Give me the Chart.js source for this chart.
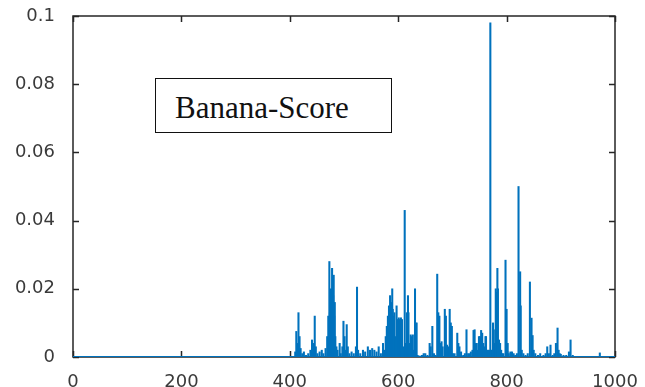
<!DOCTYPE html>
<html>
<head>
<meta charset="utf-8">
<script src="https://cdn.jsdelivr.net/npm/chart.js@4.4.1/dist/chart.umd.min.js"></script>
<style>
  body { margin: 0; background: #fff; }
  #wrap { position: relative; width: 645px; height: 387px; }
  #label {
    position: absolute; left: 155px; top: 78px; width: 237px; height: 55px;
    box-sizing: border-box; border: 1.5px solid #111; background: #fff;
    font-family: "Liberation Serif", serif; font-size: 31px; line-height: 58px;
    padding-left: 19px; color: #111;
  }
</style>
</head>
<body>
<div id="wrap">
  <canvas id="chart" width="645" height="387"></canvas>
  <div id="label">Banana-Score</div>
</div>
<script>
// spikes (index, score)
const spikeX = [410, 412, 414, 416, 418, 420, 423, 426, 430, 434, 438, 441, 443, 446, 448, 451, 455, 459, 462, 466,
  469, 471, 473, 474, 475, 476, 477, 478, 479, 480, 481, 482, 483, 484, 486, 488, 492, 494, 497, 499,
  501, 503, 505, 507, 510, 514, 518, 522, 524, 526, 530, 535, 539, 544, 548, 552, 556, 560, 564, 568,
  572, 575, 577, 579, 581, 583, 585, 587, 589, 590, 591, 593, 595, 597, 599, 601, 603, 605, 607, 609,
  612, 614, 616, 618, 619, 621, 623, 625, 627, 629, 631, 632, 634, 636, 640, 644, 647, 650, 654, 658,
  660, 663, 666, 669, 672, 674, 676, 678, 680, 682, 686, 688, 690, 692, 695, 697, 699, 701, 704, 709,
  711, 713, 716, 720, 723, 726, 729, 732, 734, 737, 739, 741, 743, 745, 747, 749, 751, 753, 755, 757,
  759, 761, 762, 764, 766, 768, 770, 772, 774, 775, 777, 779, 780, 782, 783, 784, 786, 788, 790, 792,
  794, 798, 800, 802, 804, 807, 810, 813, 816, 819, 822, 825, 826, 828, 831, 835, 839, 843, 846, 848,
  850, 853, 858, 862, 868, 872, 875, 878, 881, 885, 888, 891, 894, 896, 898, 900, 905, 910, 915, 918,
  922, 972];
const spikeY = [0.0015, 0.0075, 0.004, 0.013, 0.006, 0.0025, 0.001, 0.0015, 0.0005, 0.001, 0.002, 0.005, 0.004, 0.012, 0.003, 0.001, 0.0015, 0.002, 0.001, 0.0025,
  0.006, 0.012, 0.028, 0.013, 0.017, 0.02, 0.014, 0.026, 0.01, 0.018, 0.024, 0.012, 0.016, 0.006, 0.003, 0.002, 0.004, 0.001, 0.003, 0.0105,
  0.006, 0.002, 0.0095, 0.003, 0.001, 0.0015, 0.001, 0.003, 0.0205, 0.002, 0.001, 0.002, 0.0015, 0.003, 0.002, 0.0025, 0.002, 0.0015, 0.003, 0.001,
  0.004, 0.002, 0.006, 0.009, 0.012, 0.015, 0.018, 0.016, 0.02, 0.014, 0.012, 0.013, 0.006, 0.015, 0.011, 0.0115, 0.011, 0.0115, 0.011, 0.003,
  0.043, 0.004, 0.013, 0.018, 0.013, 0.004, 0.0065, 0.006, 0.0065, 0.002, 0.02, 0.01, 0.01, 0.0005, 0.0003, 0.0005, 0.001, 0.001, 0.0005, 0.004,
  0.003, 0.009, 0.001, 0.0005, 0.0243, 0.013, 0.012, 0.004, 0.0045, 0.003, 0.014, 0.012, 0.0035, 0.003, 0.014, 0.01, 0.009, 0.001, 0.001, 0.007,
  0.004, 0.003, 0.0015, 0.0005, 0.001, 0.008, 0.001, 0.001, 0.0015, 0.002, 0.0078, 0.008, 0.004, 0.004, 0.002, 0.006, 0.006, 0.0078, 0.007, 0.004,
  0.003, 0.006, 0.006, 0.002, 0.002, 0.002, 0.098, 0.002, 0.002, 0.01, 0.004, 0.008, 0.02, 0.019, 0.026, 0.02, 0.005, 0.004, 0.002, 0.001,
  0.001, 0.0284, 0.014, 0.004, 0.001, 0.0015, 0.0015, 0.001, 0.0005, 0.001, 0.05, 0.025, 0.015, 0.002, 0.001, 0.0005, 0.001, 0.022, 0.0114, 0.0063,
  0.002, 0.001, 0.0005, 0.001, 0.0005, 0.001, 0.003, 0.001, 0.0035, 0.0005, 0.001, 0.004, 0.0085, 0.002, 0.001, 0.0008, 0.0005, 0.0005, 0.0015, 0.005,
  0.0005, 0.0012];
const xRange = [0, 1000];
const yRange = [0, 0.1];
const xStep = 200;
const yStep = 0.02;

const blue = '#0072BD';
const axisColor = '#262626';

// box + inward ticks on all four sides
const frame = {
  id: 'frame',
  beforeDatasetsDraw(chart) {
    const { ctx, chartArea: a, scales: { x, y } } = chart;
    ctx.save();
    ctx.strokeStyle = axisColor;
    ctx.lineWidth = 1.5;
    ctx.strokeRect(a.left, a.top, a.right - a.left, a.bottom - a.top);
    ctx.beginPath();
    y.ticks.forEach(t => {
      const py = Math.round(y.getPixelForValue(t.value)) + 0.5;
      ctx.moveTo(a.left, py); ctx.lineTo(a.left + 6, py);
      ctx.moveTo(a.right, py); ctx.lineTo(a.right - 6, py);
    });
    x.ticks.forEach(t => {
      const px = Math.round(x.getPixelForValue(t.value)) + 0.5;
      ctx.moveTo(px, a.top); ctx.lineTo(px, a.top + 6);
      ctx.moveTo(px, a.bottom); ctx.lineTo(px, a.bottom - 6);
    });
    ctx.stroke();
    ctx.restore();
  }
};

const tickFont = { family: 'DejaVu Sans', size: 18 };

new Chart(document.getElementById('chart'), {
  type: 'bar',
  data: {
    datasets: [{
      data: spikeX.map((v, i) => ({ x: v, y: spikeY[i] })),
      backgroundColor: blue,
      borderWidth: 0,
      barThickness: 1.4
    }, {
      type: 'line',
      data: xRange.map(v => ({ x: v, y: 0 })),
      borderColor: blue,
      borderWidth: 2,
      pointRadius: 0
    }]
  },
  options: {
    responsive: false,
    animation: false,
    layout: { padding: { top: 16, right: 30, left: 0, bottom: 0 } },
    plugins: { legend: { display: false }, tooltip: { enabled: false } },
    scales: {
      x: {
        type: 'linear',
        offset: false,
        min: xRange[0], max: xRange[1],
        grid: { display: false },
        border: { display: false },
        ticks: {
          stepSize: xStep, font: tickFont, color: '#3a3a3a', padding: 7, maxRotation: 0, autoSkip: false,
          callback: v => String(v)
        },
        afterFit(s) { s.height = 30; s.paddingLeft = 0; s.paddingRight = 0; }
      },
      y: {
        min: yRange[0], max: yRange[1],
        grid: { display: false },
        border: { display: false },
        ticks: {
          stepSize: yStep, font: tickFont, color: '#3a3a3a', padding: 10,
          callback: v => String(Math.round(v * 100) / 100)
        },
        afterFit(s) { s.width = 73; s.paddingTop = 0; s.paddingBottom = 0; }
      }
    }
  },
  plugins: [frame]
});
</script>
</body>
</html>
